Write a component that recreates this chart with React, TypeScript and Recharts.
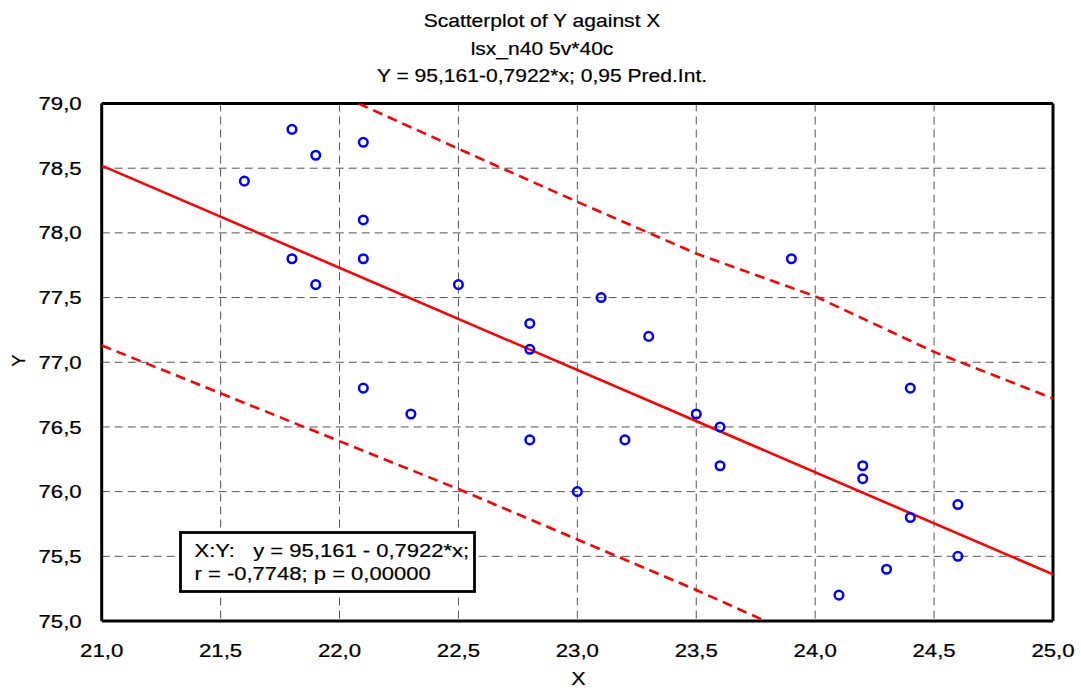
import React from 'react';
import { ScatterChart, Scatter, XAxis, YAxis, CartesianGrid } from 'recharts';

// Observed cases (X, Y)
const xValues = [21.6, 21.8, 21.9, 21.8, 21.9, 22.1, 22.1, 22.1, 22.1, 22.3, 22.5, 22.8, 22.8, 22.8, 23.0, 23.1, 23.2, 23.3, 23.5, 23.6, 23.6, 23.9, 24.1, 24.2, 24.2, 24.3, 24.4, 24.4, 24.6, 24.6];
const yValues = [78.4, 78.8, 78.6, 77.8, 77.6, 78.7, 78.1, 77.8, 76.8, 76.6, 77.6, 77.3, 77.1, 76.4, 76.0, 77.5, 76.4, 77.2, 76.6, 76.5, 76.2, 77.8, 75.2, 76.2, 76.1, 75.4, 76.8, 75.8, 75.9, 75.5];

// Regression line endpoints
const fitX = [21.0, 25.0];
const fitY = [78.52, 75.36];

// Upper 0.95 prediction band
const upperX = [22.08, 22.5, 23.0, 23.5, 24.0, 24.5, 25.0];
const upperY = [79.0, 78.65, 78.24, 77.84, 77.51, 77.08, 76.72];

// Lower 0.95 prediction band
const lowerX = [21.0, 21.5, 22.0, 22.5, 23.0, 23.5, 23.79];
const lowerY = [77.13, 76.76, 76.39, 76.02, 75.63, 75.24, 75.0];

// Axis ticks
const xMajorTicks = [21.0, 21.5, 22.0, 22.5, 23.0, 23.5, 24.0, 24.5, 25.0];
const yMajorTicks = [75.0, 75.5, 76.0, 76.5, 77.0, 77.5, 78.0, 78.5, 79.0];
const xMinorTicks = [21.0, 21.1, 21.2, 21.3, 21.4, 21.5, 21.6, 21.7, 21.8, 21.9, 22.0, 22.1, 22.2, 22.3, 22.4, 22.5, 22.6, 22.7, 22.8, 22.9, 23.0, 23.1, 23.2, 23.3, 23.4, 23.5, 23.6, 23.7, 23.8, 23.9, 24.0, 24.1, 24.2, 24.3, 24.4, 24.5, 24.6, 24.7, 24.8, 24.9, 25.0];
const yMinorTicks = [75.0, 75.1, 75.2, 75.3, 75.4, 75.5, 75.6, 75.7, 75.8, 75.9, 76.0, 76.1, 76.2, 76.3, 76.4, 76.5, 76.6, 76.7, 76.8, 76.9, 77.0, 77.1, 77.2, 77.3, 77.4, 77.5, 77.6, 77.7, 77.8, 77.9, 78.0, 78.1, 78.2, 78.3, 78.4, 78.5, 78.6, 78.7, 78.8, 78.9, 79.0];

const titleLines = ['Scatterplot of Y against X', 'lsx_n40 5v*40c', 'Y = 95,161-0,7922*x; 0,95 Pred.Int.'];
const legendLines = ['X:Y:   y = 95,161 - 0,7922*x;', 'r = -0,7748; p = 0,00000'];

const zip = (xs: number[], ys: number[]) => xs.map((x, i) => ({ x, y: ys[i] }));
const points = zip(xValues, yValues);
const fitLine = zip(fitX, fitY);
const upperLine = zip(upperX, upperY);
const lowerLine = zip(lowerX, lowerY);

const FONT = '"Liberation Sans", Arial, sans-serif';
const SX = 1.2;
const fmt = (v: number) => v.toFixed(1).replace('.', ',');

const XTick = (props: any) => {
  const { x, y, payload } = props;
  return (
    <text transform={`translate(${x},${y + 28}) scale(${SX},1)`} x={0} y={0} textAnchor="middle" fontFamily={FONT} fontSize={18.5} fill="#000" stroke="#000" strokeWidth={0.25}>
      {fmt(payload.value)}
    </text>
  );
};

const YTick = (props: any) => {
  const { x, y, payload } = props;
  return (
    <text transform={`translate(${x - 12},${y + 6.6}) scale(${SX},1)`} x={0} y={0} textAnchor="end" fontFamily={FONT} fontSize={18.5} fill="#000" stroke="#000" strokeWidth={0.25}>
      {fmt(payload.value)}
    </text>
  );
};

const Dot = (props: any) => {
  const { cx, cy } = props;
  if (cx == null || cy == null) return null;
  return <circle cx={cx} cy={cy} r={4.3} fill="none" stroke="#0000ff" strokeWidth={2.5} />;
};

const NoDot = () => null;

const W = 1081;
const H = 691;
const frameLine = { stroke: '#000', strokeWidth: 3 };
const minorTickLine = { stroke: '#000', strokeWidth: 1.6 };

export default function App() {
  return (
    <div style={{ position: 'absolute', left: 0, top: 0, width: W, height: H, background: '#fff' }}>
      <ScatterChart width={W} height={H} margin={{ top: 103.5, right: 28, bottom: 0, left: 0 }}>
        <CartesianGrid stroke="#555" strokeWidth={1} strokeDasharray="8 5" />
        <XAxis xAxisId={0} type="number" dataKey="x" domain={[21, 25]} ticks={xMajorTicks} allowDataOverflow height={70} tickLine={false} axisLine={false} tick={<XTick />} interval={0} />
        <YAxis yAxisId={0} type="number" dataKey="y" domain={[75, 79]} ticks={yMajorTicks} allowDataOverflow width={101.7} tickLine={false} axisLine={false} tick={<YTick />} interval={0} />
        <XAxis xAxisId="minB" orientation="bottom" mirror type="number" dataKey="x" domain={[21, 25]} ticks={xMinorTicks} allowDataOverflow tick={false} tickSize={4} interval={0} axisLine={frameLine} tickLine={minorTickLine} />
        <XAxis xAxisId="minT" orientation="top" mirror type="number" dataKey="x" domain={[21, 25]} ticks={xMinorTicks} allowDataOverflow tick={false} tickSize={4} interval={0} axisLine={frameLine} tickLine={minorTickLine} />
        <YAxis yAxisId="minL" orientation="left" mirror type="number" dataKey="y" domain={[75, 79]} ticks={yMinorTicks} allowDataOverflow tick={false} tickSize={4} interval={0} axisLine={frameLine} tickLine={minorTickLine} />
        <YAxis yAxisId="minR" orientation="right" mirror type="number" dataKey="y" domain={[75, 79]} ticks={yMinorTicks} allowDataOverflow tick={false} tickSize={4} interval={0} axisLine={frameLine} tickLine={minorTickLine} />
        <Scatter data={upperLine} isAnimationActive={false} line={{ stroke: '#ff0000', strokeWidth: 2.6, strokeDasharray: '10 6' }} shape={NoDot} legendType="none" />
        <Scatter data={lowerLine} isAnimationActive={false} line={{ stroke: '#ff0000', strokeWidth: 2.6, strokeDasharray: '10 6' }} shape={NoDot} legendType="none" />
        <Scatter data={fitLine} isAnimationActive={false} line={{ stroke: '#ff0000', strokeWidth: 2.6 }} shape={NoDot} legendType="none" />
        <Scatter data={points} isAnimationActive={false} shape={<Dot />} legendType="none" />
      </ScatterChart>
      <svg width={W} height={H} style={{ position: 'absolute', left: 0, top: 0, pointerEvents: 'none' }}>
        {titleLines.map((t, i) => (
          <text key={t} transform={`translate(542,${27 + i * 27.5}) scale(1.17,1)`} x={0} y={0} textAnchor="middle" fontFamily={FONT} fontSize={18} fill="#000" stroke="#000" strokeWidth={0.2}>
            {t}
          </text>
        ))}
        <text transform="translate(25,360.5) rotate(-90)" x={0} y={0} textAnchor="middle" fontFamily={FONT} fontSize={18.5} fill="#000" stroke="#000" strokeWidth={0.2}>Y</text>
        <text transform="translate(578.5,685) scale(1.2,1)" x={0} y={0} textAnchor="middle" fontFamily={FONT} fontSize={18} fill="#000" stroke="#000" strokeWidth={0.2}>X</text>
        <rect x={180.5} y={532.5} width={294} height={59} fill="#fff" stroke="#000" strokeWidth={2.8} />
        {legendLines.map((t, i) => (
          <text key={t} transform={`translate(194.5,${557 + i * 23}) scale(1.19,1)`} x={0} y={0} fontFamily={FONT} fontSize={18.5} fill="#000" stroke="#000" strokeWidth={0.2} style={{ whiteSpace: 'pre' }}>
            {t}
          </text>
        ))}
      </svg>
    </div>
  );
}
